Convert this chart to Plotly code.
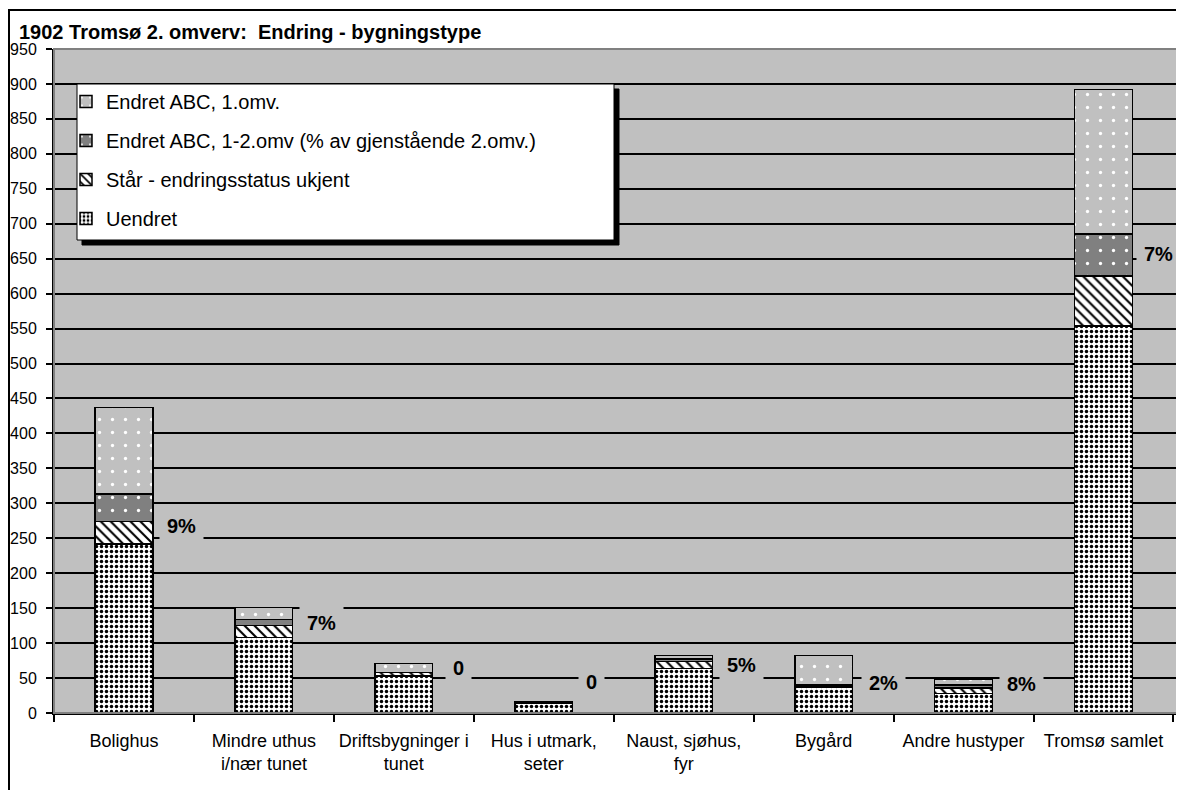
import plotly.graph_objects as go

categories = ["Bolighus", "Mindre uthus<br>i/nær tunet", "Driftsbygninger i<br>tunet",
              "Hus i utmark,<br>seter", "Naust, sjøhus,<br>fyr", "Bygård",
              "Andre hustyper", "Tromsø samlet"]
uendret = [242, 108, 53, 14, 64, 37, 28, 554]
staar = [32, 17, 5, 1, 10, 2, 8, 71]
endret_12 = [39, 9, 0, 0, 3, 2, 4, 60]
endret_1 = [124, 17, 13, 1, 5, 41, 8, 207]
pct_labels = ["9%", "7%", "0", "0", "5%", "2%", "8%", "7%"]
pct_y = [267, 129, 65, 45, 69, 43, 41, 656]
pct_shift = [58, 58, 55, 48, 58, 60, 58, 55]

series_names = ["Uendret", "Står - endringsstatus ukjent",
                "Endret ABC, 1-2.omv (% av gjenstående 2.omv.)", "Endret ABC, 1.omv."]

FONT = "Liberation Sans, Arial, sans-serif"
OFF = 8  # page body margin
W, H = 1176, 782
L, R, T, B = 46, 3, 41, 77
PW, PH = W - L - R, H - T - B


def px_x(x):
    return (x - OFF - L) / PW


def px_y(y):
    return (H - B - (y - OFF)) / PH


fig = go.Figure()
styles = [
    dict(bgcolor="white", fgcolor="black", shape=".", size=5, solidity=0.38),
    dict(bgcolor="white", fgcolor="black", shape="\\", size=7, solidity=0.3),
    dict(bgcolor="#808080", fgcolor="white", shape=".", size=13, solidity=0.05),
    dict(bgcolor="#C0C0C0", fgcolor="white", shape=".", size=13, solidity=0.05),
]
ranks = [4, 3, 2, 1]
for name, vals, st, rk in zip(series_names, [uendret, staar, endret_12, endret_1], styles, ranks):
    fig.add_trace(go.Bar(
        x=categories, y=vals, name=name, legendgroup=name, legendrank=rk,
        marker=dict(color=st["bgcolor"], line=dict(color="black", width=1.5),
                    pattern=dict(shape=st["shape"], bgcolor=st["bgcolor"], fgcolor=st["fgcolor"],
                                 size=st["size"], solidity=st["solidity"], fillmode="replace")),
    ))

for cat, lab, yv, sh in zip(categories, pct_labels, pct_y, pct_shift):
    fig.add_annotation(x=cat, y=yv, xref="x", yref="y", text="<b>" + lab + "</b>", showarrow=False,
                       xshift=sh, font=dict(family=FONT, size=20, color="black"),
                       bgcolor="#C0C0C0", borderpad=7)

fig.add_annotation(x=px_x(17), y=px_y(32), xref="paper", yref="paper", xanchor="left",
                   yanchor="middle", showarrow=False,
                   text="<b>1902 Tromsø 2. omverv:  Endring - bygningstype</b>",
                   font=dict(family=FONT, size=20, color="black"))

shapes = [
    # outer chart frame
    dict(type="rect", xref="paper", yref="paper", x0=px_x(9), x1=px_x(1300), y0=px_y(900), y1=px_y(10),
         line=dict(color="black", width=2), layer="above"),
    # plot area border
    dict(type="rect", xref="paper", yref="paper", x0=0, x1=1, y0=0, y1=1,
         line=dict(color="#808080", width=2), layer="above"),
    # legend shadow
    dict(type="rect", xref="paper", yref="paper", x0=px_x(82), x1=px_x(619), y0=px_y(245), y1=px_y(89),
         fillcolor="black", line=dict(color="black", width=1), layer="above"),
    # legend box
    dict(type="rect", xref="paper", yref="paper", x0=px_x(77), x1=px_x(614), y0=px_y(240), y1=px_y(84),
         fillcolor="white", line=dict(color="black", width=1), layer="above"),
]

fig.update_layout(
    width=W, height=H, margin=dict(l=L, r=R, t=T, b=B),
    barmode="stack", bargap=0.588,
    paper_bgcolor="white", plot_bgcolor="#C0C0C0",
    font=dict(family=FONT, color="black"),
    shapes=shapes,
    showlegend=True,
    legend=dict(x=px_x(66), y=px_y(82), xanchor="left", yanchor="top",
                bgcolor="rgba(0,0,0,0)", borderwidth=0, traceorder="grouped",
                tracegroupgap=10, font=dict(family=FONT, size=20, color="black")),
    xaxis=dict(type="category", showline=True, linecolor="black", linewidth=2,
               ticks="outside", tickson="boundaries", ticklen=7, tickwidth=1.5, tickcolor="black",
               tickfont=dict(family=FONT, size=18, color="black"), ticklabelstandoff=10,
               showgrid=False),
    yaxis=dict(range=[0, 950], dtick=50, tick0=0, showline=True, linecolor="black", linewidth=2,
               ticks="outside", ticklen=6, tickwidth=1.5, tickcolor="black",
               tickfont=dict(family=FONT, size=16, color="black"), ticklabelstandoff=6,
               showgrid=True, gridcolor="black", gridwidth=2, zeroline=False),
)

fig.write_html("out.html")
